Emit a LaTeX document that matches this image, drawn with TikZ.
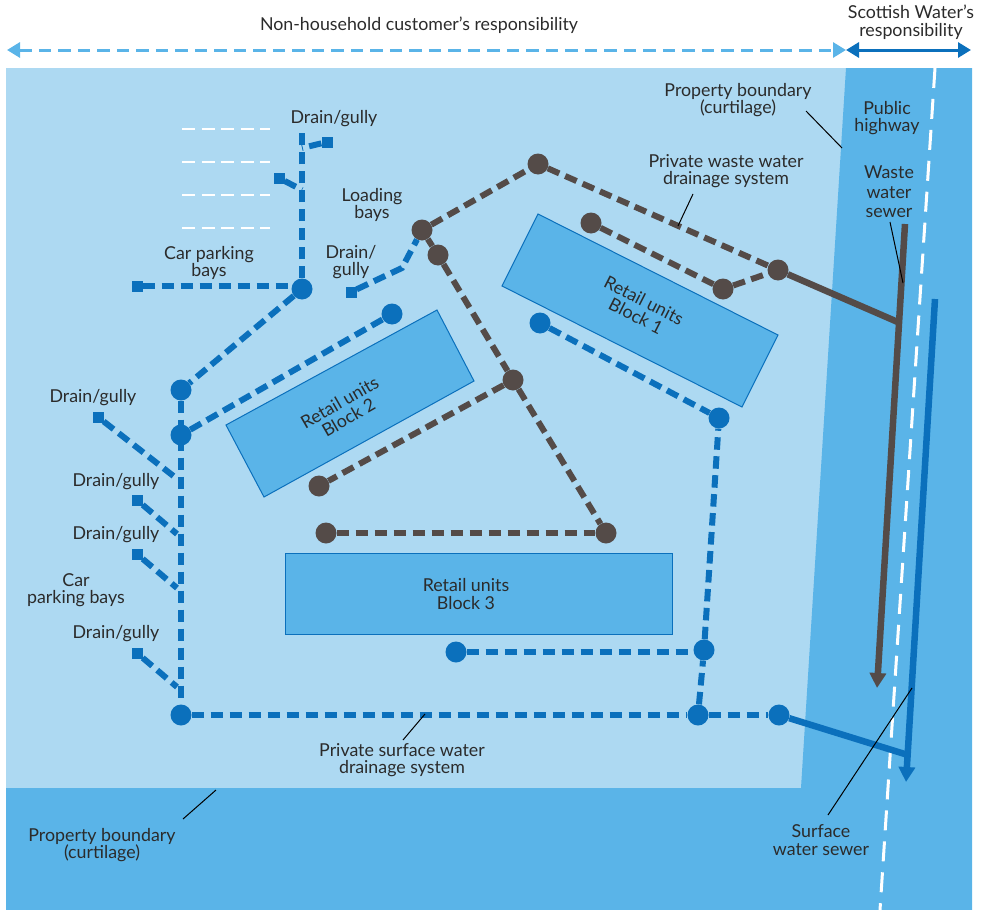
\documentclass[tikz,border=0pt]{standalone}
\usepackage{fontspec}
\setmainfont{Lato}
\usetikzlibrary{arrows.meta}
\definecolor{plotlight}{HTML}{ADD9F2}
\definecolor{plotdark}{HTML}{5AB4E8}
\definecolor{pipeblue}{HTML}{0B70BC}
\definecolor{pipebrown}{HTML}{544B48}
\definecolor{labelgrey}{HTML}{2B2B2B}
\tikzset{
    label text/.style={text=labelgrey, font=\fontsize{17.8}{17.6}\selectfont, align=center, inner sep=0pt},
    block/.style={draw=pipeblue, fill=plotdark, line width=1pt},
    blue junction/.style={circle, fill=pipeblue, minimum size=21pt, inner sep=0pt},
    brown junction/.style={circle, fill=pipebrown, minimum size=21pt, inner sep=0pt},
    drain/.style={rectangle, fill=pipeblue, minimum size=11pt, inner sep=0pt},
    blue pipe/.style={draw=pipeblue, line width=6pt, dash pattern=on 12.5pt off 6.5pt},
    brown pipe/.style={draw=pipebrown, line width=6pt, dash pattern=on 12.5pt off 6.5pt},
    leader/.style={draw=black, line width=1pt},
    white dash/.style={draw=white, line width=1.5pt, dash pattern=on 13pt off 6.5pt}
}
\begin{document}
\begin{tikzpicture}[x=1pt, y=-1pt]
    \useasboundingbox (0, 0) rectangle (986, 910);

    % Ground
    \fill[plotlight] (6, 68) rectangle (972, 910);
    \fill[plotdark] (846, 68) -- (972, 68) -- (972, 910) -- (6, 910) -- (6, 788) -- (801, 788) -- cycle;
    \draw[draw=white, line width=3pt, dash pattern=on 20pt off 11pt] (935, 68) -- (880, 910);

    % Parking bays
    \foreach \y in {129, 162, 195, 228}
        \draw[white dash] (182, \y) -- (270, \y);

    % Retail blocks
    \draw[block] (538, 214) -- (778, 335) -- (742, 407) -- (502, 286) -- cycle;
    \draw[block] (437, 310) -- (474, 381) -- (264, 497) -- (226, 425) -- cycle;
    \draw[block] (285, 553) rectangle (672, 634);
    \node[label text, rotate=-27] (blockone) at (640, 308) {Retail units\\Block 1};
    \node[label text, rotate=30] (blocktwo) at (344, 410) {Retail units\\Block 2};
    \node[label text] (blockthree) at (466, 594) {Retail units\\Block 3};

    % Responsibility arrows
    \coordinate (custL) at (7, 50);
    \coordinate (custR) at (846, 50);
    \coordinate (swR) at (971, 50);
    \draw[{Triangle[length=13pt, width=15pt]}-{Triangle[length=13pt, width=15pt]}, plotdark, line width=3pt, dash pattern=on 12.5pt off 7pt] (custL) -- (custR);
    \draw[{Triangle[length=13pt, width=15pt]}-{Triangle[length=13pt, width=15pt]}, pipeblue, line width=3pt] (custR) -- (swR);

    % Surface water junctions
    \node[blue junction] (sOne) at (302, 289) {};
    \node[blue junction] (sTwo) at (181, 390) {};
    \node[blue junction] (sThree) at (181, 435) {};
    \node[blue junction] (sFour) at (392, 314) {};
    \node[blue junction] (sFive) at (181, 715) {};
    \node[blue junction] (sSix) at (698, 715) {};
    \node[blue junction] (sSeven) at (779, 715) {};
    \node[blue junction] (sEight) at (704, 650) {};
    \node[blue junction] (sNine) at (456, 652) {};
    \node[blue junction] (sTen) at (719, 418) {};
    \node[blue junction] (sEleven) at (540, 323) {};

    % Drains
    \node[drain] (dTop) at (327, 142) {};
    \node[drain] (dBay) at (279, 178) {};
    \node[drain] (dCar) at (137, 286) {};
    \node[drain] (dLoad) at (351, 292) {};
    \node[drain] (dA) at (98, 417) {};
    \node[drain] (dB) at (137, 500) {};
    \node[drain] (dC) at (137, 554) {};
    \node[drain] (dD) at (137, 653) {};

    % Free ends on the vertical runs
    \coordinate (vTop) at (302, 131);
    \coordinate (vA) at (302, 148);
    \coordinate (vB) at (302, 190);
    \coordinate (hA) at (176, 478);
    \coordinate (hB) at (177, 534);
    \coordinate (hC) at (177, 588);
    \coordinate (hD) at (177, 687);
    \coordinate (hNine) at (704, 652);
    \coordinate (hCar) at (302, 286);
    \coordinate (bendLoad) at (402, 268);

    % Brown junctions
    \node[brown junction] (wOne) at (422, 230) {};
    \node[brown junction] (wTwo) at (538, 164) {};
    \node[brown junction] (wThree) at (778, 270) {};
    \node[brown junction] (wFour) at (591, 223) {};
    \node[brown junction] (wFive) at (723, 289) {};
    \node[brown junction] (wSix) at (438, 255) {};
    \node[brown junction] (wSeven) at (513, 380) {};
    \node[brown junction] (wEight) at (606, 533) {};
    \node[brown junction] (wNine) at (326, 533) {};
    \node[brown junction] (wTen) at (319, 486) {};

    % Private surface water system
    \draw[blue pipe] (sOne) -- (vTop);
    \draw[blue pipe] (dTop) -- (vA);
    \draw[blue pipe] (dBay) -- (vB);
    \draw[blue pipe] (dCar) -- (hCar);
    \draw[blue pipe] (sOne) -- (sTwo);
    \draw[blue pipe] (sThree) -- (sFour);
    \draw[blue pipe] (sTwo) -- (sFive);
    \draw[blue pipe] (dLoad) -- (bendLoad) -- (wOne);
    \draw[blue pipe] (dA) -- (hA);
    \draw[blue pipe] (dB) -- (hB);
    \draw[blue pipe] (dC) -- (hC);
    \draw[blue pipe] (dD) -- (hD);
    \draw[blue pipe] (sFive) -- (sSix);
    \draw[blue pipe] (sSix) -- (sSeven);
    \draw[blue pipe] (sSix) -- (sEight);
    \draw[blue pipe] (sEight) -- (sTen);
    \draw[blue pipe] (sNine) -- (hNine);
    \draw[blue pipe] (sEleven) -- (sTen);

    % Private waste water system
    \draw[brown pipe] (wOne) -- (wTwo);
    \draw[brown pipe] (wTwo) -- (wThree);
    \draw[brown pipe] (wFour) -- (wFive);
    \draw[brown pipe] (wFive) -- (wThree);
    \draw[brown pipe] (wOne) -- (wSix);
    \draw[brown pipe] (wSix) -- (wSeven);
    \draw[brown pipe] (wSeven) -- (wEight);
    \draw[brown pipe] (wSeven) -- (wTen);
    \draw[brown pipe] (wNine) -- (wEight);

    % Public sewers
    \coordinate (wasteTop) at (905, 224);
    \coordinate (wasteEnd) at (877, 688);
    \coordinate (wasteJoin) at (900, 323);
    \coordinate (surfTop) at (935, 299);
    \coordinate (surfEnd) at (906, 782);
    \coordinate (surfJoin) at (908, 755);
    \draw[-{Triangle[length=15pt, width=16pt]}, pipebrown, line width=6.5pt] (wasteTop) -- (wasteEnd);
    \draw[pipebrown, line width=6.5pt] (wThree) -- (wasteJoin);
    \draw[-{Triangle[length=15pt, width=16pt]}, pipeblue, line width=6.5pt] (surfTop) -- (surfEnd);
    \draw[pipeblue, line width=6.5pt] (sSeven) -- (surfJoin);

    % Labels
    \node[label text] (custlabel) at (419, 25) {Non-household customer's responsibility};
    \node[label text] (swlabel) at (911, 22) {Scottish Water's\\responsibility};
    \node[label text] (boundtop) at (738, 100) {Property boundary\\(curtilage)};
    \node[label text] (highway) at (887, 118) {Public\\highway};
    \node[label text] (wastesewer) at (889, 192) {Waste\\[2pt]water\\[2pt]sewer};
    \node[label text] (wastesys) at (726, 171) {Private waste water\\drainage system};
    \node[label text] (draintop) at (334, 119) {Drain/gully};
    \node[label text] (loading) at (372, 205) {Loading\\bays};
    \node[label text] (drainload) at (351, 262) {Drain/\\gully};
    \node[label text] (cartop) at (209, 263) {Car parking\\bays};
    \node[label text] (drainA) at (93, 398) {Drain/gully};
    \node[label text] (drainB) at (116, 482) {Drain/gully};
    \node[label text] (drainC) at (116, 535) {Drain/gully};
    \node[label text] (carleft) at (76, 590) {Car\\parking bays};
    \node[label text] (drainD) at (116, 634) {Drain/gully};
    \node[label text] (surfsys) at (402, 760) {Private surface water\\drainage system};
    \node[label text] (boundlow) at (102, 845) {Property boundary\\(curtilage)};
    \node[label text] (surfsewer) at (821, 840) {Surface\\water sewer};

    % Leaders
    \coordinate (lBoundTop) at (842, 148);
    \coordinate (lWasteSys) at (678, 226);
    \coordinate (lWasteSewer) at (903, 283);
    \coordinate (lSurfSewer) at (912, 688);
    \coordinate (lSurfSys) at (425, 714);
    \coordinate (lBoundLow) at (216, 790);
    \draw[leader] (lBoundTop) -- (806, 111);
    \draw[leader] (lWasteSys) -- (693, 194);
    \draw[leader] (lWasteSewer) -- (890, 222);
    \draw[leader] (lSurfSewer) -- (828, 815);
    \draw[leader] (lSurfSys) -- (403, 740);
    \draw[leader] (lBoundLow) -- (183, 819);
\end{tikzpicture}
\end{document}
